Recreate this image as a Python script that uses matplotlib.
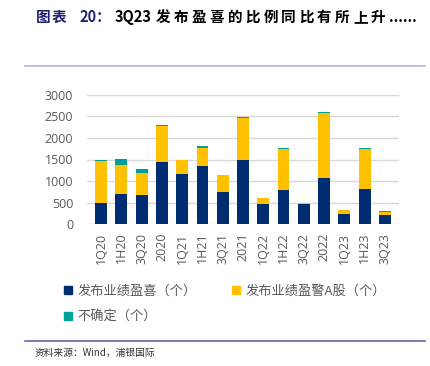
import numpy as np
import matplotlib.pyplot as plt
from matplotlib.lines import Line2D

plt.rcParams['font.family'] = ['Noto Sans CJK SC', 'DejaVu Sans']

periods = ["1Q20", "1H20", "3Q20", "2020", "1Q21", "1H21", "3Q21", "2021",
           "1Q22", "1H22", "3Q22", "2022", "1Q23", "1H23", "3Q23"]
positive = [500, 700, 686, 1450, 1172, 1342, 755, 1496, 470, 794, 470, 1080, 245, 824, 222]
negative = [972, 666, 509, 818, 309, 432, 386, 972, 139, 957, 23, 1497, 86, 927, 63]
uncertain = [18, 138, 77, 30, 14, 38, 4, 12, 6, 23, 7, 23, 4, 14, 20]

c_pos = "#002D72"
c_neg = "#FFC000"
c_unc = "#00A09A"
gray = "#595959"

W, H = 431, 366
fig = plt.figure(figsize=(W / 100, H / 100), dpi=100)
ax = fig.add_axes([87 / W, 1 - 224.3 / H, 312 / W, 129.6 / H])

x = np.arange(len(periods))
w = 0.59
pos = np.array(positive)
neg = np.array(negative)
unc = np.array(uncertain)
ax.bar(x, pos, w, color=c_pos, zorder=3)
ax.bar(x, neg, w, bottom=pos, color=c_neg, zorder=3)
ax.bar(x, unc, w, bottom=pos + neg, color=c_unc, zorder=3)

ax.set_ylim(0, 3000)
ax.set_xlim(-0.7, len(periods) - 0.3)
ax.set_yticks(range(0, 3001, 500))
ax.set_xticks(x)
ax.set_xticklabels(periods, rotation=90)
ax.tick_params(axis='both', length=0, colors=gray, labelsize=9)
ax.tick_params(axis='y', pad=10)
ax.tick_params(axis='x', pad=6)
for lab in ax.get_xticklabels() + ax.get_yticklabels():
    lab.set_family('Open Sans')
ax.yaxis.grid(True, color="#d9d9d9", linewidth=1, zorder=0)
for s in ax.spines.values():
    s.set_visible(False)

# legend order so that columns fill as in the reference
handles = [Line2D([], [], marker='s', linestyle='', color=c, markersize=6)
           for c in (c_pos, c_unc, c_neg)]
labels = ["发布业绩盈喜（个）", "不确定（个）", "发布业绩盈警A股（个）"]
fig.legend(handles, labels, ncol=2, frameon=False, loc='upper left',
           bbox_to_anchor=(51 / W, 1 - 273 / H), fontsize=9.5,
           labelcolor=gray, handletextpad=0.3, columnspacing=2.6,
           labelspacing=1.0, handlelength=0.8)

# title, placed piece by piece to mimic the wide character spacing
ty = 1 - 17 / H
fig.text(36 / W, ty, "图", color="#1F1F6E", fontsize=10.5, fontweight='bold', va='center')
fig.text(52 / W, ty, "表", color="#1F1F6E", fontsize=10.5, fontweight='bold', va='center')
fig.text(79 / W, ty, "20：", color="#1F1F6E", fontsize=10.5, fontweight='bold', va='center')
fig.text(115 / W, ty, "3Q23", color="black", fontsize=10.5, fontweight='bold', va='center')
for i, ch in enumerate("发布盈喜的比例同比有所上升"):
    fig.text((156 + i * 17.9) / W, ty, ch, color="black", fontsize=10.5,
             fontweight='bold', va='center')
fig.text(389 / W, ty, "......", color="black", fontsize=10.5, fontweight='bold', va='center')

fig.add_artist(Line2D([25 / W, 425 / W], [1 - 66 / H] * 2,
                      color="#b4b4da", linewidth=1.2))
fig.add_artist(Line2D([25 / W, 425 / W], [1 - 341 / H] * 2,
                      color="#7363a6", linewidth=1.2))
fig.text(35 / W, 1 - 353 / H, "资料来源：Wind，浦银国际", color="#333333",
         fontsize=7, va='center')

fig.savefig("out.png", dpi=100)
